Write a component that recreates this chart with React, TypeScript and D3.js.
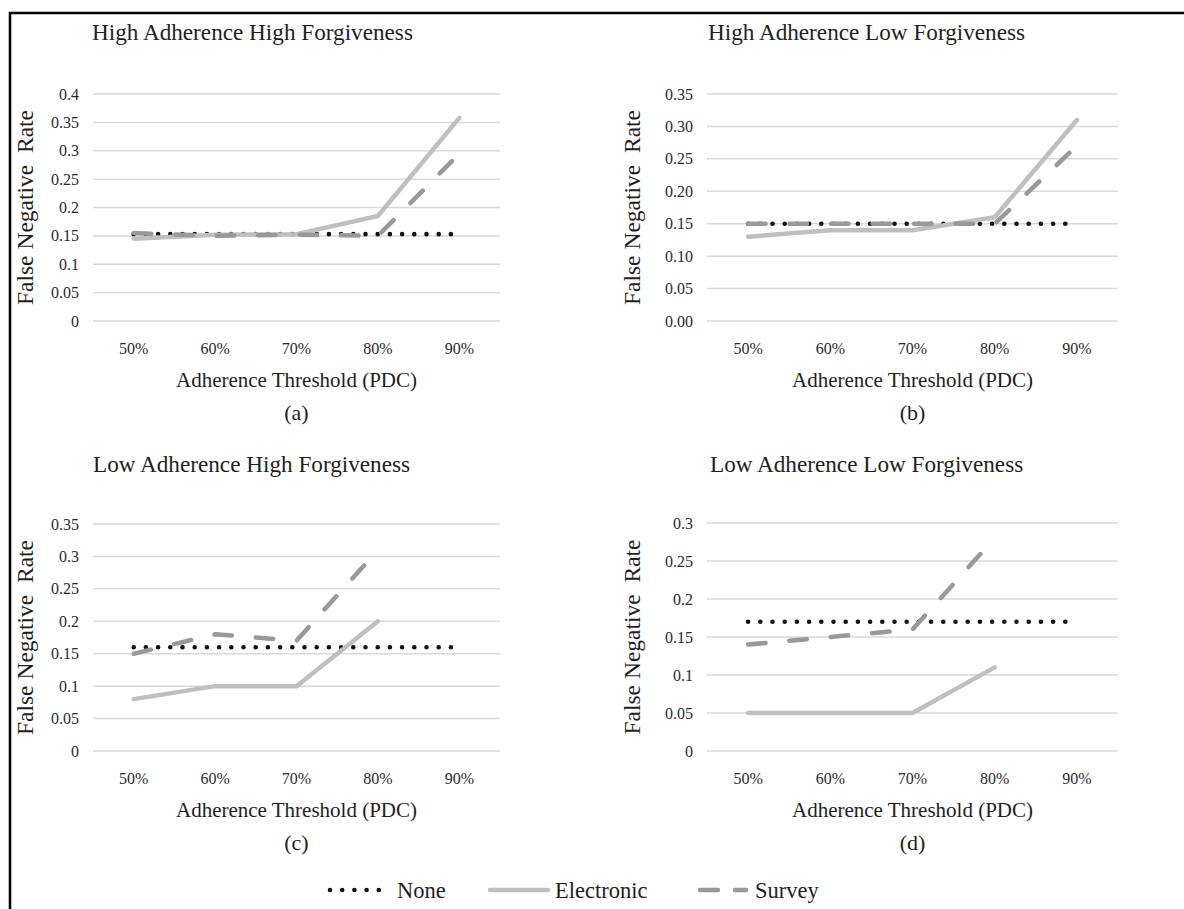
import React, { useEffect, useRef } from "react";
import * as d3 from "d3";

const thresholds = ["50%", "60%", "70%", "80%", "90%"];
const seriesNames = ["None", "Electronic", "Survey"];

const panelTitles = [
  "High Adherence High Forgiveness",
  "High Adherence Low Forgiveness",
  "Low Adherence High Forgiveness",
  "Low Adherence Low Forgiveness",
];
const panelLetters = ["(a)", "(b)", "(c)", "(d)"];
const yMaxes = [0.4, 0.35, 0.35, 0.3];

// values per panel: None, Electronic, Survey
const noneA = [0.153, 0.153, 0.153, 0.153, 0.153];
const electronicA = [0.145, 0.152, 0.153, 0.185, 0.358];
const surveyA = [0.155, 0.15, 0.152, 0.15, 0.295];

const noneB = [0.15, 0.15, 0.15, 0.15, 0.15];
const electronicB = [0.13, 0.14, 0.14, 0.16, 0.31];
const surveyB = [0.15, 0.15, 0.15, 0.15, 0.27];

const noneC = [0.16, 0.16, 0.16, 0.16, 0.16];
const electronicC = [0.08, 0.1, 0.1, 0.2, null];
const surveyC = [0.15, 0.18, 0.17, 0.31, null];

const noneD = [0.17, 0.17, 0.17, 0.17, 0.17];
const electronicD = [0.05, 0.05, 0.05, 0.11, null];
const surveyD = [0.14, 0.15, 0.16, 0.28, null];

const panelData = [
  [noneA, electronicA, surveyA],
  [noneB, electronicB, surveyB],
  [noneC, electronicC, surveyC],
  [noneD, electronicD, surveyD],
];

const FONT = "Liberation Serif";

const seriesStyle = [
  { color: "#111111", width: 4.6, dash: "0 12.2", cap: "round" },
  { color: "#bfbfbf", width: 4.5, dash: null, cap: "round" },
  { color: "#999999", width: 4.5, dash: "17.5 24", cap: "round" },
];

const W = 1184;
const H = 909;

export default function App() {
  const ref = useRef<SVGSVGElement>(null);

  useEffect(() => {
    const svg = d3.select(ref.current);
    svg.selectAll("*").remove();

    // outer frame (top + left only)
    svg.append("path")
      .attr("d", `M10,${H} L10,13 L${W},13`)
      .attr("fill", "none")
      .attr("stroke", "#000")
      .attr("stroke-width", 2.5);

    const layout = [
      { x0: 93, x1: 500, top: 94, bottom: 321, titleX: 92, titleY: 40, tickX: 79, ylabX: 25 },
      { x0: 707, x1: 1118, top: 94, bottom: 321, titleX: 708, titleY: 40, tickX: 693, ylabX: 632 },
      { x0: 93, x1: 500, top: 524, bottom: 751, titleX: 93, titleY: 472, tickX: 79, ylabX: 25 },
      { x0: 707, x1: 1118, top: 523, bottom: 751, titleX: 710, titleY: 472, tickX: 693, ylabX: 632 },
    ];

    layout.forEach((p, pi) => {
      const g = svg.append("g");
      const x = d3.scaleBand().domain(thresholds).range([p.x0, p.x1]);
      const y = d3.scaleLinear().domain([0, yMaxes[pi]]).range([p.bottom, p.top]);
      const ticks = d3.range(0, yMaxes[pi] + 1e-9, 0.05);
      const fmt = pi === 1 ? d3.format(".2f") : (v: number) => String(+v.toFixed(2));

      g.append("text")
        .attr("x", p.titleX)
        .attr("y", p.titleY)
        .attr("font-family", FONT)
        .attr("font-size", 23.2)
        .attr("fill", "#1e1e1e")
        .text(panelTitles[pi]);

      g.selectAll(".grid")
        .data(ticks)
        .enter()
        .append("line")
        .attr("x1", p.x0)
        .attr("x2", p.x1)
        .attr("y1", (d) => y(d))
        .attr("y2", (d) => y(d))
        .attr("stroke", "#d9d9d9")
        .attr("stroke-width", 1.5);

      g.selectAll(".ytick")
        .data(ticks)
        .enter()
        .append("text")
        .attr("x", p.tickX)
        .attr("y", (d) => y(d))
        .attr("dy", "0.35em")
        .attr("text-anchor", "end")
        .attr("font-family", FONT)
        .attr("font-size", 16)
        .attr("fill", "#2a2a2a")
        .text((d) => fmt(d));

      g.selectAll(".xtick")
        .data(thresholds)
        .enter()
        .append("text")
        .attr("x", (d) => x(d)! + x.bandwidth() / 2)
        .attr("y", p.bottom + 27)
        .attr("dy", "0.35em")
        .attr("text-anchor", "middle")
        .attr("font-family", FONT)
        .attr("font-size", 16)
        .attr("fill", "#2a2a2a")
        .text((d) => d);

      const cx = (p.x0 + p.x1) / 2;
      g.append("text")
        .attr("x", cx)
        .attr("y", p.bottom + 59)
        .attr("dy", "0.35em")
        .attr("text-anchor", "middle")
        .attr("font-family", FONT)
        .attr("font-size", 21)
        .attr("fill", "#1e1e1e")
        .text("Adherence Threshold (PDC)");

      g.append("text")
        .attr("x", cx)
        .attr("y", p.bottom + 91)
        .attr("dy", "0.35em")
        .attr("text-anchor", "middle")
        .attr("font-family", FONT)
        .attr("font-size", 22)
        .attr("fill", "#1e1e1e")
        .text(panelLetters[pi]);

      const ly = (p.top + p.bottom) / 2;
      g.append("text")
        .attr("transform", `translate(${p.ylabX},${ly}) rotate(-90)`)
        .attr("dy", "0.35em")
        .attr("text-anchor", "middle")
        .attr("font-family", FONT)
        .attr("font-size", 23.5)
        .attr("fill", "#1e1e1e")
        .style("white-space", "pre")
        .text("False Negative  Rate");

      const line = d3.line<number | null>()
        .defined((d) => d !== null)
        .x((d, i) => x(thresholds[i])! + x.bandwidth() / 2)
        .y((d) => y(d as number));

      // draw order: None, Electronic, Survey
      panelData[pi].forEach((vals, si) => {
        const s = seriesStyle[si];
        g.append("path")
          .attr("d", line(vals))
          .attr("fill", "none")
          .attr("stroke", s.color)
          .attr("stroke-width", s.width)
          .attr("stroke-linecap", s.cap)
          .attr("stroke-linejoin", "round")
          .attr("stroke-dasharray", s.dash);
      });
    });

    // legend
    const legY = 890;
    const lg = svg.append("g");
    const legItems = [
      { x1: 330, x2: 380, tx: 397 },
      { x1: 490, x2: 548, tx: 555 },
      { x1: 700, x2: 746, tx: 755 },
    ];
    legItems.forEach((it, i) => {
      const s = seriesStyle[i];
      lg.append("line")
        .attr("x1", it.x1)
        .attr("x2", it.x2)
        .attr("y1", legY)
        .attr("y2", legY)
        .attr("stroke", s.color)
        .attr("stroke-width", s.width)
        .attr("stroke-linecap", s.cap)
        .attr("stroke-dasharray", i === 2 ? "18 17" : s.dash);
      lg.append("text")
        .attr("x", it.tx)
        .attr("y", legY)
        .attr("dy", "0.35em")
        .attr("font-family", FONT)
        .attr("font-size", 22.5)
        .attr("fill", "#1e1e1e")
        .text(seriesNames[i]);
    });
  }, []);

  return (
    <svg
      ref={ref}
      width={W}
      height={H}
      style={{ position: "absolute", left: 0, top: 0, background: "#fff" }}
    />
  );
}
